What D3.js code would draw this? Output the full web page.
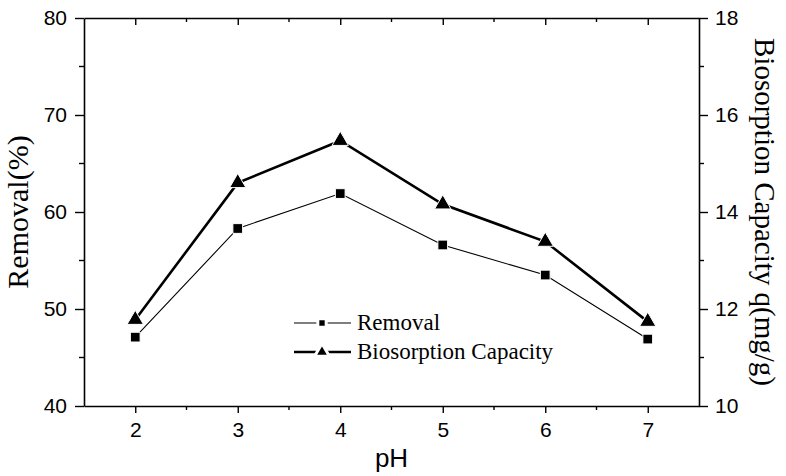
<!DOCTYPE html>
<html>
<head>
<meta charset="utf-8">
<script src="https://cdn.jsdelivr.net/npm/d3@7"></script>
<style>
  html, body { margin: 0; padding: 0; background: #fff; }
  svg { display: block; }
</style>
</head>
<body>
<svg id="chart" width="786" height="476"></svg>
<script>
const phValues = [2, 3, 4, 5, 6, 7];
const removal = [47.1, 58.3, 61.9, 56.6, 53.5, 46.9];
const capacity = [11.78, 14.6, 15.47, 14.16, 13.39, 11.74];
const leftTicks = [40, 50, 60, 70, 80];
const rightTicks = [10, 12, 14, 16, 18];
const xTicks = [2, 3, 4, 5, 6, 7];
const seriesNames = ["Removal", "Biosorption Capacity"];

const svg = d3.select("#chart");
const L = 84, R = 699, T = 18, B = 406;

const x = d3.scaleLinear().domain([1.5, 7.5]).range([L, R]);
const yL = d3.scaleLinear().domain([40, 80]).range([B, T]);
const yR = d3.scaleLinear().domain([10, 18]).range([B, T]);

const sans = "Liberation Sans, Arial, sans-serif";
const serif = "Liberation Serif, Times New Roman, serif";

function styleAxis(g) {
  g.select(".domain").attr("stroke", "#000").attr("stroke-width", 1.6);
  g.selectAll(".tick line").attr("stroke", "#000").attr("stroke-width", 1.4);
  g.selectAll(".tick text").attr("font-family", sans).attr("font-size", 21).attr("fill", "#000");
}

// minor ticks
const xMinor = [2.5, 3.5, 4.5, 5.5, 6.5];
const yLMinor = [45, 55, 65, 75];
const yRMinor = [11, 13, 15, 17];

// bottom axis
const gB = svg.append("g").attr("transform", `translate(0,${B})`)
  .call(d3.axisBottom(x).tickValues(xTicks).tickSize(7).tickSizeOuter(0).tickPadding(9).tickFormat(d3.format("d")));
styleAxis(gB);
gB.selectAll(".minor").data(xMinor).enter().append("line")
  .attr("x1", d => x(d)).attr("x2", d => x(d)).attr("y1", 0).attr("y2", 4)
  .attr("stroke", "#000").attr("stroke-width", 1.4);

// top axis (ticks inward)
const gT = svg.append("g").attr("transform", `translate(0,${T})`)
  .call(d3.axisTop(x).tickValues(xTicks).tickSize(-7).tickSizeOuter(0).tickFormat(""));
styleAxis(gT);
gT.selectAll(".minor").data(xMinor).enter().append("line")
  .attr("x1", d => x(d)).attr("x2", d => x(d)).attr("y1", 0).attr("y2", 4)
  .attr("stroke", "#000").attr("stroke-width", 1.4);

// left axis
const gL = svg.append("g").attr("transform", `translate(${L},0)`)
  .call(d3.axisLeft(yL).tickValues(leftTicks).tickSize(9).tickSizeOuter(0).tickPadding(8).tickFormat(d3.format("d")));
styleAxis(gL);
gL.selectAll(".minor").data(yLMinor).enter().append("line")
  .attr("y1", d => yL(d)).attr("y2", d => yL(d)).attr("x1", 0).attr("x2", -5)
  .attr("stroke", "#000").attr("stroke-width", 1.4);

// right axis
const gR = svg.append("g").attr("transform", `translate(${R},0)`)
  .call(d3.axisRight(yR).tickValues(rightTicks).tickSize(9).tickSizeOuter(0).tickPadding(7).tickFormat(d3.format("d")));
styleAxis(gR);
gR.selectAll(".minor").data(yRMinor).enter().append("line")
  .attr("y1", d => yR(d)).attr("y2", d => yR(d)).attr("x1", 0).attr("x2", 5)
  .attr("stroke", "#000").attr("stroke-width", 1.4);

// axis titles
svg.append("text")
  .attr("transform", `translate(28,${(T + B) / 2}) rotate(-90)`)
  .attr("text-anchor", "middle")
  .attr("font-family", serif).attr("font-size", 30).attr("fill", "#000")
  .text("Removal(%)");

svg.append("text")
  .attr("transform", `translate(755,${(T + B) / 2}) rotate(90)`)
  .attr("text-anchor", "middle")
  .attr("font-family", serif).attr("font-size", 29).attr("fill", "#000")
  .text("Biosorption Capacity q(mg/g)");

svg.append("text")
  .attr("x", (L + R) / 2).attr("y", 467)
  .attr("text-anchor", "middle")
  .attr("font-family", sans).attr("font-size", 26).attr("fill", "#000")
  .text("pH");

// series
const remData = phValues.map((p, i) => ({ x: p, y: removal[i] }));
const capData = phValues.map((p, i) => ({ x: p, y: capacity[i] }));

svg.append("path").datum(remData)
  .attr("fill", "none").attr("stroke", "#000").attr("stroke-width", 1.1)
  .attr("d", d3.line().x(d => x(d.x)).y(d => yL(d.y)));

svg.append("path").datum(capData)
  .attr("fill", "none").attr("stroke", "#000").attr("stroke-width", 2.6)
  .attr("d", d3.line().x(d => x(d.x)).y(d => yR(d.y)));

const sq = d3.symbol().type(d3.symbolSquare).size(95);
const tri = d3.symbol().type(d3.symbolTriangle).size(115);

svg.selectAll(".sq").data(remData).enter().append("path")
  .attr("d", sq).attr("transform", d => `translate(${x(d.x)},${yL(d.y)})`)
  .attr("fill", "#000").attr("stroke", "#fff").attr("stroke-width", 1);

svg.selectAll(".tri").data(capData).enter().append("path")
  .attr("d", tri).attr("transform", d => `translate(${x(d.x)},${yR(d.y)})`)
  .attr("fill", "#000").attr("stroke", "#fff").attr("stroke-width", 1);

// legend
const legend = svg.append("g");
const legY = [323, 352];
const legW = [1.1, 2.6];
const legSym = [
  d3.symbol().type(d3.symbolSquare).size(70),
  d3.symbol().type(d3.symbolTriangle).size(95)
];
seriesNames.forEach((name, i) => {
  legend.append("line").attr("x1", 294).attr("x2", 351).attr("y1", legY[i]).attr("y2", legY[i])
    .attr("stroke", "#000").attr("stroke-width", legW[i]);
  legend.append("path").attr("d", legSym[i]).attr("transform", `translate(322,${legY[i]})`)
    .attr("fill", "#000").attr("stroke", "#fff").attr("stroke-width", 3);
  legend.append("text").attr("x", 357).attr("y", legY[i] + 7)
    .attr("font-family", serif).attr("font-size", 23).attr("fill", "#000")
    .text(name);
});
</script>
</body>
</html>
